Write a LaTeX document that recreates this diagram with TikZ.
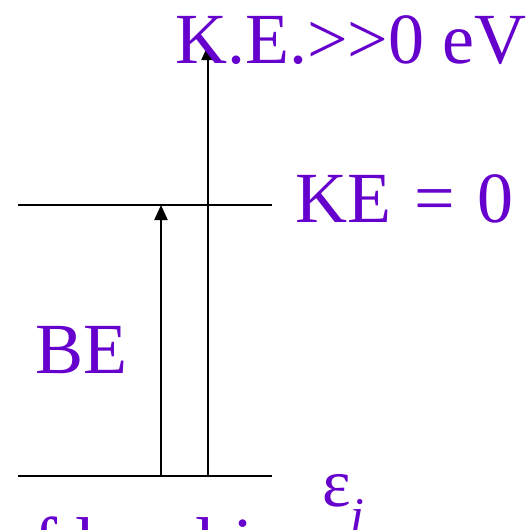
\documentclass[tikz,border=0pt]{standalone}
\usepackage{fontspec}
\setmainfont{Liberation Serif}
\usetikzlibrary{positioning,arrows.meta}
\definecolor{labelpurple}{RGB}{102,0,204}

\begin{document}
\begin{tikzpicture}[x=1pt, y=-1pt,
  level/.style={line width=2pt, black},
  arr/.style={-{Triangle[length=15pt, width=13pt]}, line width=2pt, black},
  lbl/.style={text=labelpurple, font=\fontsize{72}{80}\selectfont, inner sep=0pt, anchor=base west}]
\useasboundingbox (0,0) rectangle (529,530);
% energy levels
\coordinate (low west) at (18,476);
\coordinate (low east) at (272,476);
\coordinate (vac west) at (18,205);
\coordinate (vac east) at (272,205);
\coordinate (be foot) at (161,476);
\coordinate (be top) at (161,205);
\coordinate (ke foot) at (208,476);
\coordinate (ke top) at (208,45);
\draw[level] (low west) -- (low east);
\draw[level] (vac west) -- (vac east);
\draw[arr] (be foot) -- (be top);
\draw[arr] (ke foot) -- (ke top);
% labels
\node[lbl] (kebig) at (175,63) {K.E.>{}>0 eV};
\node[lbl] (kezero) at (295,222) {KE\hspace{.32em}=\hspace{.32em}0};
\node[lbl] (be) at (35,373) {BE};
\node[lbl, font=\fontsize{68}{70}\selectfont] (eps) at (322,506)
  {ε\raisebox{-26pt}{\fontsize{50}{50}\selectfont\itshape i}};
\node[lbl] (orbit) at (-3,567) {of level i};
\end{tikzpicture}
\end{document}
